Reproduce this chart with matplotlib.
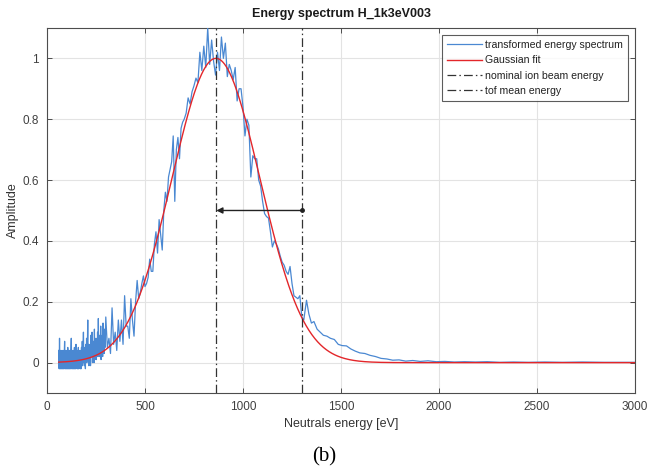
import numpy as np
import matplotlib
matplotlib.use("Agg")
import matplotlib.pyplot as plt

plt.rcParams["font.family"] = ["Liberation Sans", "DejaVu Sans"]

# ---------------- data ----------------
energy_a = [60, 62, 64, 66, 68, 70, 72, 74, 76, 78,
            80, 82, 84, 86, 88, 90, 92, 94, 96, 98,
            100, 102, 104, 106, 108, 110, 112, 114, 116, 118,
            120, 122, 124, 126, 128, 130, 132, 134, 136, 138,
            140, 142, 144, 146, 148, 150, 152, 154, 156, 158,
            160, 162, 164, 166, 168, 170, 172, 174, 176, 178,
            180, 182, 184, 186, 188, 190, 192, 194, 196, 198,
            200, 202, 204, 206, 208, 210, 212, 214, 216, 218,
            220, 222, 224, 226, 228, 230, 232, 234, 236, 238,
            240, 242, 244, 246, 248, 250, 252, 254, 256, 258,
            260, 262, 264, 266, 268, 270, 272, 274, 276, 278,
            280, 282, 284, 286, 288, 290, 292, 294, 296, 298]
amp_a = [0.04, -0.02, 0.08, -0.02, 0.04, -0.02, 0.04, -0.02, 0.03, -0.02,
         0.04, -0.02, 0.04, -0.02, 0.02, 0.07, -0.02, 0.04, -0.02, 0.04,
         -0.02, 0.04, -0.02, 0.05, -0.02, 0.04, -0.02, 0.04, -0.02, 0.04,
         -0.02, 0.04, 0.08, -0.02, 0.04, -0.02, 0.04, -0.02, 0.04, -0.02,
         0.05, -0.02, 0.04, -0.02, 0.06, -0.01, 0.04, -0.02, 0.04, -0.02,
         0.05, -0.02, 0.04, 0.00, 0.04, -0.02, 0.04, -0.02, 0.05, -0.01,
         0.07, -0.01, 0.04, 0.10, 0.00, 0.05, -0.01, 0.04, -0.02, 0.06,
         0.00, 0.08, 0.01, 0.05, 0.14, 0.00, 0.06, -0.01, 0.05, 0.01,
         0.06, -0.01, 0.09, 0.02, 0.05, 0.10, 0.00, 0.06, 0.02, 0.07,
         0.00, 0.11, 0.01, 0.06, 0.02, 0.08, 0.01, 0.07, 0.03, 0.10,
         0.02, 0.145, 0.03, 0.09, 0.02, 0.07, 0.03, 0.12, 0.01, 0.08,
         0.04, 0.09, 0.02, 0.13, 0.04, 0.08, 0.03, 0.11, 0.05, 0.09]

energy_b = [300, 308, 316, 324, 332, 340, 348, 356, 364, 372,
            380, 388, 396, 404, 412, 420, 428, 436, 444, 452,
            460, 468, 476, 484, 492, 500, 508, 516, 524, 532,
            540, 548, 556, 564, 572, 580, 588, 596, 604, 612,
            620, 628, 636, 644, 652, 660, 668, 676, 684, 692]
amp_b = [0.15, 0.05, 0.08, 0.03, 0.18, 0.06, 0.10, 0.04, 0.14, 0.07,
         0.14, 0.06, 0.22, 0.12, 0.12, 0.08, 0.21, 0.14, 0.087, 0.20,
         0.27, 0.21, 0.23, 0.26, 0.285, 0.25, 0.26, 0.28, 0.34, 0.30,
         0.30, 0.39, 0.43, 0.36, 0.47, 0.42, 0.37, 0.50, 0.56, 0.53,
         0.61, 0.635, 0.66, 0.745, 0.53, 0.70, 0.74, 0.67, 0.77, 0.79]

energy_c = [700, 710, 720, 730, 740, 750, 760, 770, 780, 790,
            800, 810, 820, 830, 840, 850, 860, 870, 880, 890,
            900, 910, 920, 930, 940, 950, 960, 970, 980, 990,
            1000, 1010, 1020, 1030, 1040, 1050, 1060, 1070, 1080, 1090,
            1100, 1110, 1120, 1130, 1140, 1150, 1160, 1170, 1180, 1190,
            1200, 1210, 1220, 1230, 1240, 1250, 1260, 1270, 1280, 1290]
amp_c = [0.80, 0.82, 0.87, 0.85, 0.89, 0.91, 0.935, 0.92, 1.02, 0.96,
         1.04, 0.97, 1.10, 0.98, 1.06, 0.99, 0.945, 1.02, 0.96, 1.07,
         1.00, 1.05, 0.94, 0.98, 0.96, 0.93, 0.97, 0.86, 0.90, 0.90,
         0.84, 0.745, 0.80, 0.78, 0.61, 0.68, 0.67, 0.67, 0.60, 0.58,
         0.53, 0.49, 0.48, 0.475, 0.43, 0.38, 0.40, 0.39, 0.375, 0.35,
         0.33, 0.32, 0.30, 0.29, 0.316, 0.26, 0.22, 0.215, 0.21, 0.22]

energy_d = [1300, 1310, 1324, 1336, 1349, 1362, 1378, 1394, 1410, 1428,
            1446, 1466, 1486, 1506, 1528, 1550, 1572, 1596, 1622, 1648,
            1676, 1704, 1734, 1764, 1796, 1830, 1866, 1904, 1944, 1986,
            2030, 2078, 2130, 2186, 2246, 2310, 2380, 2456, 2540, 2630,
            2730, 2840, 2960, 3000]
amp_d = [0.15, 0.14, 0.205, 0.16, 0.13, 0.135, 0.11, 0.10, 0.09, 0.087,
         0.08, 0.076, 0.06, 0.056, 0.055, 0.045, 0.038, 0.032, 0.03, 0.024,
         0.02, 0.014, 0.012, 0.008, 0.009, 0.005, 0.007, 0.004, 0.006, 0.003,
         0.004, 0.002, 0.003, 0.002, 0.003, 0.001, 0.002, 0.001, 0.002, 0.001,
         0.002, 0.001, 0.001, 0.001]

# Gaussian fit parameters
fit_amplitude = 1.0
fit_center = 862.0
fit_sigma = 224.0
fit_range = (60, 3000)

nominal_energy = 1300.0   # nominal ion beam energy (1k3eV)
tof_mean_energy = 864.0   # tof mean energy
arrow_level = 0.5

title_text = "Energy spectrum H_1k3eV003"
xlabel_text = "Neutrals energy [eV]"
ylabel_text = "Amplitude"
legend_labels = ["transformed energy spectrum", "Gaussian fit",
                 "nominal ion beam energy", "tof mean energy"]
xticks = [0, 500, 1000, 1500, 2000, 2500, 3000]
yticks = [0, 0.2, 0.4, 0.6, 0.8, 1]
ytick_labels = ["0", "0.2", "0.4", "0.6", "0.8", "1"]

# ---------------- figure ----------------
energy = np.array(energy_a + energy_b + energy_c + energy_d, dtype=float)
amp = np.array(amp_a + amp_b + amp_c + amp_d, dtype=float)

fit_x = np.linspace(fit_range[0], fit_range[1], 800)
fit_y = fit_amplitude * np.exp(-(fit_x - fit_center) ** 2 / (2 * fit_sigma ** 2))

fig = plt.figure(figsize=(6.48, 4.73), dpi=100)
ax = fig.add_axes([0.0725, 0.169, 0.9075, 0.772])

axis_col = "#4d4d4d"
blue = "#4A88D2"
red = "#E3262A"
dash_col = "#333333"
dashdot = (0, (7, 2.5, 1.2, 2.5))

ax.plot(energy, amp, color=blue, lw=0.9, label=legend_labels[0], zorder=3)
ax.plot(fit_x, fit_y, color=red, lw=1.0, label=legend_labels[1], zorder=4)
ax.axvline(nominal_energy, color=dash_col, lw=0.9, linestyle=dashdot,
           label=legend_labels[2], zorder=5)
ax.axvline(tof_mean_energy, color=dash_col, lw=0.9, linestyle=dashdot,
           label=legend_labels[3], zorder=5)

ax.annotate("", xy=(tof_mean_energy, arrow_level), xytext=(nominal_energy, arrow_level),
            arrowprops=dict(arrowstyle="-|>", color="#222222", lw=1.0,
                            mutation_scale=9, shrinkA=0, shrinkB=0), zorder=6)
ax.plot([nominal_energy], [arrow_level], marker="o", ms=2.5, color="#222222", zorder=6)

ax.set_xlim(0, 3000)
ax.set_ylim(-0.1, 1.1)
ax.set_xticks(xticks)
ax.set_yticks(yticks)
ax.set_yticklabels(ytick_labels)
ax.grid(True, color="#e3e3e3", lw=0.8)
ax.set_axisbelow(True)
ax.tick_params(direction="in", length=3.5, width=0.7, colors=axis_col,
               labelcolor="#404040", labelsize=8.5, top=True, right=True, pad=6)
for s in ax.spines.values():
    s.set_color(axis_col)
    s.set_linewidth(0.8)

ax.set_title(title_text, fontsize=9, fontweight="bold", color="#1a1a1a", pad=8)
ax.set_xlabel(xlabel_text, fontsize=9, color="#333333", labelpad=3)
ax.set_ylabel(ylabel_text, fontsize=9, color="#333333", labelpad=2)

leg = ax.legend(loc="upper right", fontsize=7.6, frameon=True, fancybox=False,
                handlelength=3.3, handletextpad=0.3, borderpad=0.45,
                labelspacing=0.5, borderaxespad=0.7)
leg.get_frame().set_edgecolor("#333333")
leg.get_frame().set_linewidth(0.8)
for t in leg.get_texts():
    t.set_color("#222222")

fig.text(0.5, 0.035, "(b)", ha="center", va="center", fontsize=15,
         family="Liberation Serif", color="black")

fig.savefig("out.png", dpi=100)
